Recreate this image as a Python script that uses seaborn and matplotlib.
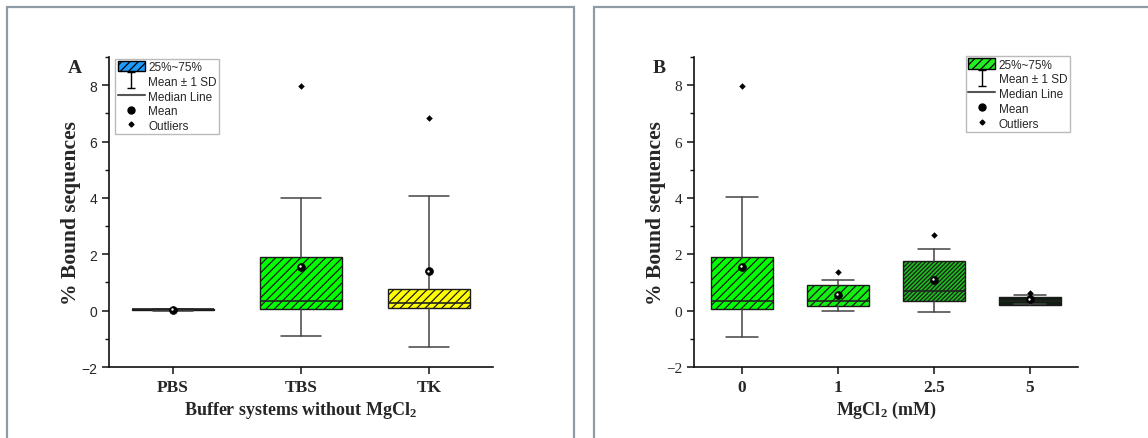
import numpy as np
import pandas as pd
import matplotlib
matplotlib.use("Agg")
import matplotlib.pyplot as plt
import seaborn as sns
from matplotlib.path import Path
from matplotlib.lines import Line2D
from matplotlib.patches import Patch, Rectangle
from matplotlib.ticker import MultipleLocator
from matplotlib.transforms import offset_copy

# ---------------- data: panel A ----------------
a_cats = ["PBS", "TBS", "TK"]
a_q1 = [0.03, 0.07, 0.09]
a_med = [0.05, 0.35, 0.27]
a_q3 = [0.07, 1.90, 0.77]
a_mean = [0.02, 1.55, 1.39]
a_sd = [0.03, 2.46, 2.69]
a_out_cat = ["TBS", "TK"]
a_out_val = [7.97, 6.83]
a_colors = ["#FFFFFF", "#00FF00", "#FFFF00"]
a_hatch = ["////", "////", "////"]

# ---------------- data: panel B ----------------
b_cats = ["0", "1", "2.5", "5"]
b_q1 = [0.07, 0.17, 0.35, 0.21]
b_med = [0.35, 0.35, 0.70, 0.33]
b_q3 = [1.90, 0.91, 1.77, 0.50]
b_mean = [1.55, 0.55, 1.08, 0.40]
b_sd = [2.47, 0.55, 1.12, 0.17]
b_out_cat = ["0", "1", "2.5", "5"]
b_out_val = [7.97, 1.37, 2.70, 0.62]
b_colors = ["#00FF00", "#11F011", "#1DBE1D", "#002800"]
b_hatch = ["////", "////", "////////", "////////////"]

SERIF = "Liberation Serif"
SANS = "Liberation Sans"

sns.set_style("ticks")
plt.rcParams["font.family"] = [SANS, "DejaVu Sans"]
plt.rcParams["hatch.linewidth"] = 0.9
plt.rcParams["axes.unicode_minus"] = True
plt.rcParams["mathtext.fontset"] = "custom"
plt.rcParams["mathtext.rm"] = SERIF + ":bold"
plt.rcParams["mathtext.it"] = SERIF + ":bold"
plt.rcParams["mathtext.bf"] = SERIF + ":bold"
plt.rcParams["mathtext.default"] = "rm"

fig = plt.figure(figsize=(11.48, 4.39), dpi=100)
W, H = 1148, 439

# panel borders
for x0, x1 in [(7, 574), (594, 1165)]:
    fig.add_artist(Rectangle((x0 / W, -0.1), (x1 - x0) / W, (439 - 8) / H + 0.1,
                             transform=fig.transFigure, fill=False,
                             edgecolor="#8E9CA8", linewidth=1.6))

ax_a = fig.add_axes([109 / W, 1 - 368 / H, 384 / W, 310 / H])
ax_b = fig.add_axes([694 / W, 1 - 368 / H, 384 / W, 310 / H])

ibeam = Path([(-0.5, 1), (0.5, 1), (0, 1), (0, -1), (-0.5, -1), (0.5, -1)],
             [Path.MOVETO, Path.LINETO, Path.MOVETO, Path.LINETO, Path.MOVETO, Path.LINETO])


def draw_panel(ax, cats, q1, med, q3, mean, sd, out_cat, out_val, colors, hatches,
               box_w, cap_w):
    pos = np.arange(len(cats))
    stats = []
    for i, c in enumerate(cats):
        stats.append(dict(label=c, q1=q1[i], med=med[i], q3=q3[i],
                          whislo=mean[i] - sd[i], whishi=mean[i] + sd[i],
                          mean=mean[i], fliers=[]))
    bp = ax.bxp(stats, positions=pos, widths=box_w, patch_artist=True,
                showfliers=False, showmeans=False,
                boxprops=dict(linewidth=1.0, edgecolor="#222222"),
                whiskerprops=dict(color="#444444", linewidth=1.1),
                capprops=dict(color="#444444", linewidth=1.1),
                capwidths=cap_w,
                medianprops=dict(color="#222222", linewidth=1.2))
    for patch, col, h in zip(bp["boxes"], colors, hatches):
        patch.set_facecolor(col)
        patch.set_hatch(h)
        patch.set_edgecolor("#1a1a1a")
    # means
    dfm = pd.DataFrame({"pos": pos, "mean": mean})
    sns.scatterplot(data=dfm, x="pos", y="mean", ax=ax, color="black", s=32,
                    marker="o", edgecolor="black", linewidth=0.5, zorder=5, legend=False)
    sns.scatterplot(data=dfm, x="pos", y="mean", ax=ax, color="white", s=3,
                    marker="o", linewidth=0, zorder=6, legend=False)
    ax.collections[-1].set_offset_transform(
        offset_copy(ax.transData, fig=fig, x=-0.8, y=0.8, units="dots"))
    # outliers
    dfo = pd.DataFrame({"pos": [cats.index(c) for c in out_cat], "val": out_val})
    sns.scatterplot(data=dfo, x="pos", y="val", ax=ax, color="black", s=11,
                    marker="D", linewidth=0, zorder=5, legend=False)
    ax.set_xlim(-0.5, len(cats) - 0.5)
    ax.set_xticks(pos)
    ax.set_xticklabels(cats)
    ax.yaxis.set_major_locator(MultipleLocator(2))
    ax.yaxis.set_minor_locator(MultipleLocator(1))
    ax.set_yticks([-2, 0, 2, 4, 6, 8])
    ax.set_ylim(-2, 9)
    sns.despine(ax=ax)
    for s in ["left", "bottom"]:
        ax.spines[s].set_linewidth(1.2)
        ax.spines[s].set_color("#111111")
    ax.tick_params(axis="both", which="major", direction="out", length=5, width=1.1,
                   color="#111111")
    ax.tick_params(axis="y", which="minor", direction="out", length=3, width=1.0,
                   color="#111111")
    ax.tick_params(axis="x", which="minor", length=0)
    for lab in ax.get_xticklabels():
        lab.set_fontfamily(SERIF)
        lab.set_fontweight("bold")
        lab.set_fontsize(12.5)
    ax.set_ylabel("% Bound sequences", fontfamily=SERIF, fontweight="bold",
                  fontsize=15.5, labelpad=0)
    ax.set_xlabel("")


draw_panel(ax_a, a_cats, a_q1, a_med, a_q3, a_mean, a_sd, a_out_cat, a_out_val,
           a_colors, a_hatch, 0.64, 0.32)
draw_panel(ax_b, b_cats, b_q1, b_med, b_q3, b_mean, b_sd, b_out_cat, b_out_val,
           b_colors, b_hatch, 0.65, 0.33)

for lab in ax_a.get_yticklabels():
    lab.set_fontfamily(SANS)
    lab.set_fontsize(10)
for lab in ax_b.get_yticklabels():
    lab.set_fontfamily(SERIF)
    lab.set_fontsize(11)

ax_a.set_xlabel("Buffer systems without MgCl$_2$", fontfamily=SERIF, fontweight="bold",
                fontsize=13, labelpad=3)
ax_b.set_xlabel("MgCl$_2$ (mM)", fontfamily=SERIF, fontweight="bold",
                fontsize=13, labelpad=3)

ax_a.text(-0.09, 0.965, "A", transform=ax_a.transAxes, fontfamily=SERIF,
          fontweight="bold", fontsize=14, ha="center", va="center")
ax_b.text(-0.09, 0.965, "B", transform=ax_b.transAxes, fontfamily=SERIF,
          fontweight="bold", fontsize=14, ha="center", va="center")


def legend_handles(col):
    return [
        Patch(facecolor=col, edgecolor="black", hatch="////", label="25%~75%"),
        Line2D([], [], marker=ibeam, color="black", ls="none", markersize=11,
               markeredgewidth=1.0, label="Mean ± 1 SD"),
        Line2D([], [], color="#555555", lw=1.5, label="Median Line"),
        Line2D([], [], marker="o", color="black", ls="none", markersize=5,
               label="Mean"),
        Line2D([], [], marker="D", color="black", ls="none", markersize=2.5,
               label="Outliers"),
    ]


for ax, col, anchor in [(ax_a, "#1E9BFF", (0.016, 0.995)), (ax_b, "#22EE22", (0.708, 1.003))]:
    leg = ax.legend(handles=legend_handles(col), loc="upper left", bbox_to_anchor=anchor,
                    borderaxespad=0, frameon=True, fancybox=False, framealpha=1,
                    edgecolor="#BBBBBB", prop={"family": SANS, "size": 8.5},
                    handlelength=2.3, handleheight=1.0, handletextpad=0.3,
                    labelspacing=0.2, borderpad=0.2)
    leg.get_frame().set_linewidth(1.0)

fig.savefig("out.png", dpi=100)
